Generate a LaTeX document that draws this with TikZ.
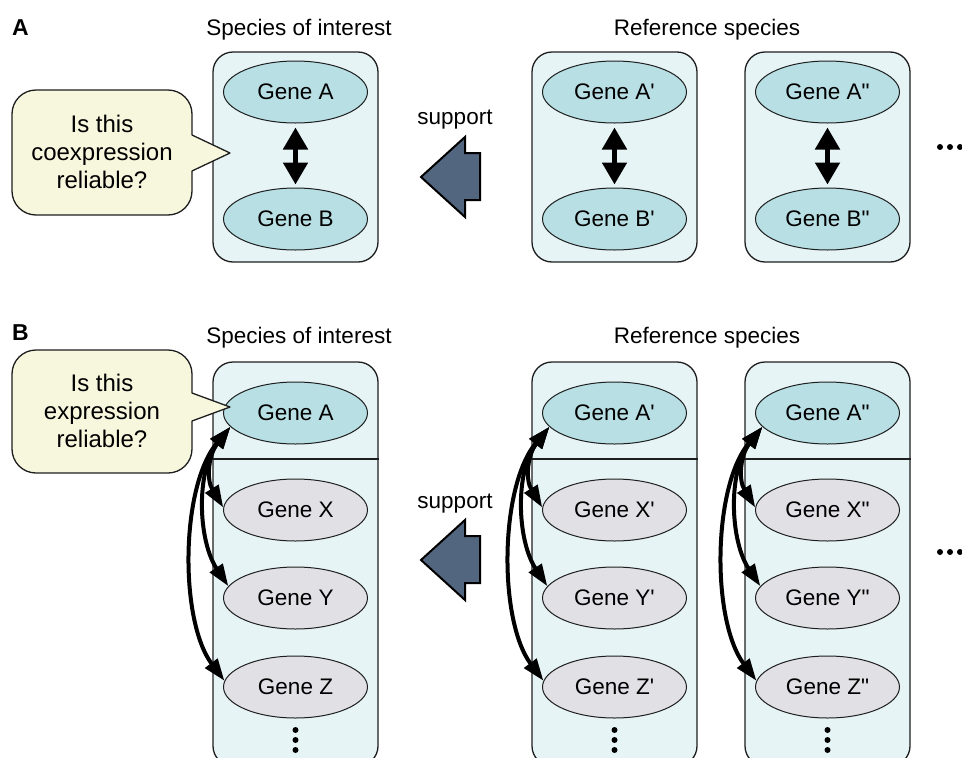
\documentclass[tikz,border=0pt]{standalone}
\usepackage{fontspec}
\newfontfamily\lsans{Liberation Sans}
\usetikzlibrary{shapes.geometric,arrows.meta}
\definecolor{boxfill}{RGB}{230,244,246}
\definecolor{geneteal}{RGB}{183,223,228}
\definecolor{genegray}{RGB}{225,225,229}
\definecolor{bubblefill}{RGB}{247,247,222}
\definecolor{arrowfill}{RGB}{83,102,127}
\definecolor{edgecol}{RGB}{30,30,30}
\tikzset{
  spbox/.style={draw=edgecol, line width=1.3pt, fill=boxfill, rounded corners=20pt,
    minimum width=165pt, inner sep=0pt},
  gene/.style={ellipse, draw=edgecol, line width=1pt, minimum width=144pt,
    minimum height=62pt, inner sep=0pt, font=\lsans\fontsize{22.5}{26}\selectfont},
  geneA/.style={gene, fill=geneteal},
  geneO/.style={gene, fill=genegray},
  ttl/.style={font=\lsans\fontsize{22.5}{26}\selectfont, anchor=base, inner sep=0pt},
  panel/.style={font=\lsans\bfseries\fontsize{23}{26}\selectfont, anchor=base west, inner sep=0pt},
  bubbletext/.style={font=\lsans\fontsize{24}{28}\selectfont, align=center, inner sep=0pt},
  bubble/.style={draw=edgecol, line width=1.3pt, fill=bubblefill, line join=round},
  blockarrow/.style={draw=black, line width=2pt, fill=arrowfill, line join=miter},
  dblarrow/.style={line width=5pt, {Triangle[length=22pt,width=24pt]}-{Triangle[length=22pt,width=24pt]}},
  curvarrow/.style={line width=4pt, {Triangle[length=22pt,width=15pt]}-{Triangle[length=22pt,width=15pt]}},
  divider/.style={draw=edgecol, line width=1.3pt},
  dot/.style={circle, fill=black, inner sep=0pt, minimum size=6pt}
}
\begin{document}
\begin{tikzpicture}[x=1pt,y=-1pt]
\useasboundingbox (0,0) rectangle (962,758);

% ---------------- Panel A ----------------
\node[panel] (labA) at (12,35) {A};
\node[ttl] (tA1) at (299,35) {Species of interest};
\node[ttl] (tA2) at (707,35) {Reference species};

\node[spbox, minimum height=210pt] (boxA1) at (295.5,157) {};
\node[spbox, minimum height=210pt] (boxA2) at (614.5,157) {};
\node[spbox, minimum height=210pt] (boxA3) at (827.5,157) {};

\node[geneA] (a1) at (295.5,92) {Gene A};
\node[geneA] (b1) at (295.5,219) {Gene B};
\node[geneA] (a2) at (614.5,92) {Gene A'};
\node[geneA] (b2) at (614.5,219) {Gene B'};
\node[geneA] (a3) at (827.5,92) {Gene A"};
\node[geneA] (b3) at (827.5,219) {Gene B"};

\draw[dblarrow, shorten <=4pt, shorten >=3pt] (a1) -- (b1);
\draw[dblarrow, shorten <=4pt, shorten >=3pt] (a2) -- (b2);
\draw[dblarrow, shorten <=4pt, shorten >=3pt] (a3) -- (b3);

% speech bubble A
\draw[bubble] (36,90) -- (168,90) arc[start angle=-90, end angle=0, radius=24]
  -- (192,135) -- (230,153) -- (192,171) -- (192,191)
  arc[start angle=0, end angle=90, radius=24] -- (36,215)
  arc[start angle=90, end angle=180, radius=24] -- (12,114)
  arc[start angle=180, end angle=270, radius=24] -- cycle;
\node[bubbletext] (qA) at (102,152) {Is this\\coexpression\\reliable?};

\node[ttl] (supA) at (455,124) {support};
\draw[blockarrow] (421,177) -- (465,137) -- (465,153) -- (480,153) -- (480,200)
  -- (465,200) -- (465,217) -- cycle;

\node[dot] (dA1) at (940,147) {};
\node[dot] (dA2) at (950,147) {};
\node[dot] (dA3) at (960,147) {};

% ---------------- Panel B ----------------
\node[panel] (labB) at (12,340) {B};
\node[ttl] (tB1) at (299,343) {Species of interest};
\node[ttl] (tB2) at (707,343) {Reference species};

\node[spbox, minimum height=404pt] (boxB1) at (295.5,564) {};
\node[spbox, minimum height=404pt] (boxB2) at (614.5,564) {};
\node[spbox, minimum height=404pt] (boxB3) at (827.5,564) {};
\coordinate (divy) at (0,459);
\draw[divider] (boxB1.west |- divy) -- (boxB1.east |- divy);
\draw[divider] (boxB2.west |- divy) -- (boxB2.east |- divy);
\draw[divider] (boxB3.west |- divy) -- (boxB3.east |- divy);

\node[geneA] (ga1) at (295.5,413) {Gene A};
\node[geneO] (gx1) at (295.5,510) {Gene X};
\node[geneO] (gy1) at (295.5,598) {Gene Y};
\node[geneO] (gz1) at (295.5,687) {Gene Z};

\node[geneA] (ga2) at (614.5,413) {Gene A'};
\node[geneO] (gx2) at (614.5,510) {Gene X'};
\node[geneO] (gy2) at (614.5,598) {Gene Y'};
\node[geneO] (gz2) at (614.5,687) {Gene Z'};

\node[geneA] (ga3) at (827.5,413) {Gene A"};
\node[geneO] (gx3) at (827.5,510) {Gene X"};
\node[geneO] (gy3) at (827.5,598) {Gene Y"};
\node[geneO] (gz3) at (827.5,687) {Gene Z"};

\foreach \c/\n in {295.5/1, 614.5/2, 827.5/3}{
  \node[dot] (v\n a) at (\c,730) {};
  \node[dot] (v\n b) at (\c,740) {};
  \node[dot] (v\n c) at (\c,750) {};
}

\foreach \n in {1,2,3}{
  \draw[curvarrow] (ga\n.192) .. controls +(-22,28) and +(-17,-28) .. (gx\n.178);
  \draw[curvarrow] (ga\n.192) .. controls +(-35,45) and +(-30,-45) .. (gy\n.170);
  \draw[curvarrow] (ga\n.192) .. controls +(-50,60) and +(-45,-60) .. (gz\n.175);
}

% speech bubble B
\draw[bubble] (36,350) -- (168,350) arc[start angle=-90, end angle=0, radius=24]
  -- (192,393) -- (230,407) -- (192,421) -- (192,449)
  arc[start angle=0, end angle=90, radius=24] -- (36,473)
  arc[start angle=90, end angle=180, radius=24] -- (12,374)
  arc[start angle=180, end angle=270, radius=24] -- cycle;
\node[bubbletext] (qB) at (102,411) {Is this\\expression\\reliable?};

\node[ttl] (supB) at (455,508) {support};
\draw[blockarrow] (421,560) -- (465,520) -- (465,536) -- (480,536) -- (480,583)
  -- (465,583) -- (465,600) -- cycle;

\node[dot] (dB1) at (940,552) {};
\node[dot] (dB2) at (950,552) {};
\node[dot] (dB3) at (960,552) {};
\end{tikzpicture}
\end{document}
